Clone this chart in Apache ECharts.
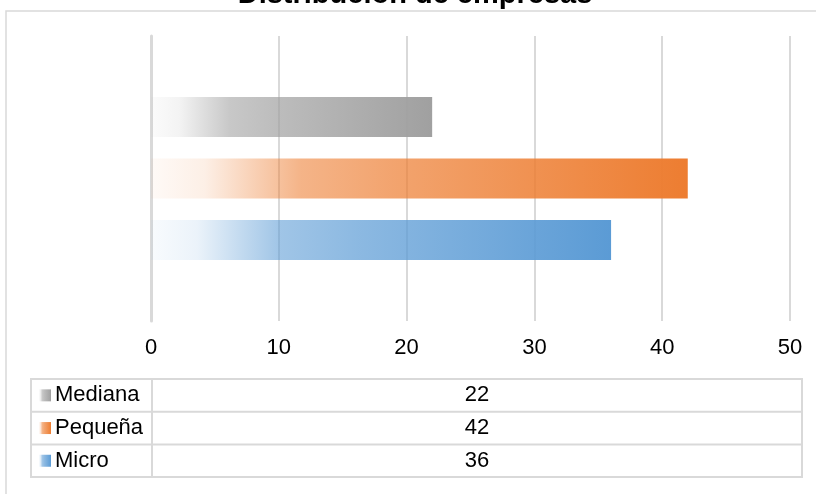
<!DOCTYPE html>
<html>
<head>
<meta charset="utf-8">
<script src="https://cdn.jsdelivr.net/npm/echarts@6/dist/echarts.min.js"></script>
<style>
  html, body { margin: 0; padding: 0; background: #fff; }
  #chart { width: 816px; height: 494px; }
</style>
</head>
<body>
<div id="chart"></div>
<script>
// Company size distribution
const chartTitle = 'Distribución de empresas';
const seriesNames = ['Mediana', 'Pequeña', 'Micro'];
const seriesValues = [22, 42, 36];
const seriesColors = [[160, 160, 160], [237, 125, 49], [91, 155, 213]];
const axisTicks = [0, 10, 20, 30, 40, 50];

const FONT = '"Liberation Sans", Arial, sans-serif';
const W = 816, H = 494;
const grid = { left: 151, right: 26, top: 36, bottom: 173 };

// horizontal fade: pale at the base, full colour at the bar end
function fade(rgb) {
  const c = a => `rgba(${rgb[0]},${rgb[1]},${rgb[2]},${a})`;
  return new echarts.graphic.LinearGradient(0, 0, 1, 0, [
    { offset: 0, color: c(0.04) },
    { offset: 0.1, color: c(0.12) },
    { offset: 0.2, color: c(0.38) },
    { offset: 0.28, color: c(0.58) },
    { offset: 0.45, color: c(0.7) },
    { offset: 1, color: c(1) }
  ]);
}

const series = seriesNames.map((name, i) => ({
  type: 'bar',
  name: name,
  data: [seriesValues[i]],
  barWidth: 40,
  barGap: '54%',
  itemStyle: { color: fade(seriesColors[i]) },
  z: 2
}));

// data table under the plot
const table = { x0: 31, x1: 802, colX: 152, y0: 379, rowH: 32.7 };
const tableGraphics = [];
const tableBottom = table.y0 + table.rowH * seriesNames.length;
tableGraphics.push({
  type: 'rect',
  shape: { x: table.x0, y: table.y0, width: table.x1 - table.x0, height: tableBottom - table.y0 },
  style: { fill: 'none', stroke: '#d9d9d9', lineWidth: 2 }
});
tableGraphics.push({
  type: 'line',
  shape: { x1: table.colX, y1: table.y0, x2: table.colX, y2: tableBottom },
  style: { stroke: '#d9d9d9', lineWidth: 2 }
});
seriesNames.forEach((name, i) => {
  const top = table.y0 + table.rowH * i;
  const cy = top + table.rowH / 2;
  if (i > 0) {
    tableGraphics.push({
      type: 'line',
      shape: { x1: table.x0, y1: top, x2: table.x1, y2: top },
      style: { stroke: '#d9d9d9', lineWidth: 2 }
    });
  }
  tableGraphics.push({
    type: 'rect',
    shape: { x: 39, y: cy - 6, width: 12, height: 12 },
    style: { fill: fade(seriesColors[i]) }
  });
  tableGraphics.push({
    type: 'text',
    x: 55, y: cy,
    style: { text: name, font: `22px ${FONT}`, fill: '#000', align: 'left', verticalAlign: 'middle' }
  });
  tableGraphics.push({
    type: 'text',
    x: (table.colX + table.x1) / 2, y: cy,
    style: { text: String(seriesValues[i]), font: `22px ${FONT}`, fill: '#000', align: 'center', verticalAlign: 'middle' }
  });
});

const chart = echarts.init(document.getElementById('chart'), null, { renderer: 'canvas' });
chart.setOption({
  animation: false,
  backgroundColor: '#fff',
  grid: grid,
  xAxis: {
    type: 'value',
    min: axisTicks[0],
    max: axisTicks[axisTicks.length - 1],
    interval: axisTicks[1] - axisTicks[0],
    axisLine: { show: false },
    axisTick: { show: false },
    axisLabel: { color: '#000', fontSize: 22, fontFamily: FONT, margin: 16 },
    splitLine: { show: true, lineStyle: { color: '#d9d9d9', width: 2 } }
  },
  yAxis: {
    type: 'category',
    data: [''],
    inverse: true,
    axisLine: { show: true, lineStyle: { color: '#d9d9d9', width: 3 } },
    axisTick: { show: false },
    axisLabel: { show: false }
  },
  series: series,
  graphic: [
    {
      type: 'rect',
      shape: { x: 6, y: 11, width: 840, height: 520 },
      style: { fill: 'none', stroke: '#d9d9d9', lineWidth: 1.5 },
      z: -1
    },
    {
      type: 'text',
      x: 415, y: -5,
      style: { text: chartTitle, font: `bold 29px ${FONT}`, fill: '#000', align: 'center', verticalAlign: 'middle' }
    }
  ].concat(tableGraphics)
});
</script>
</body>
</html>
